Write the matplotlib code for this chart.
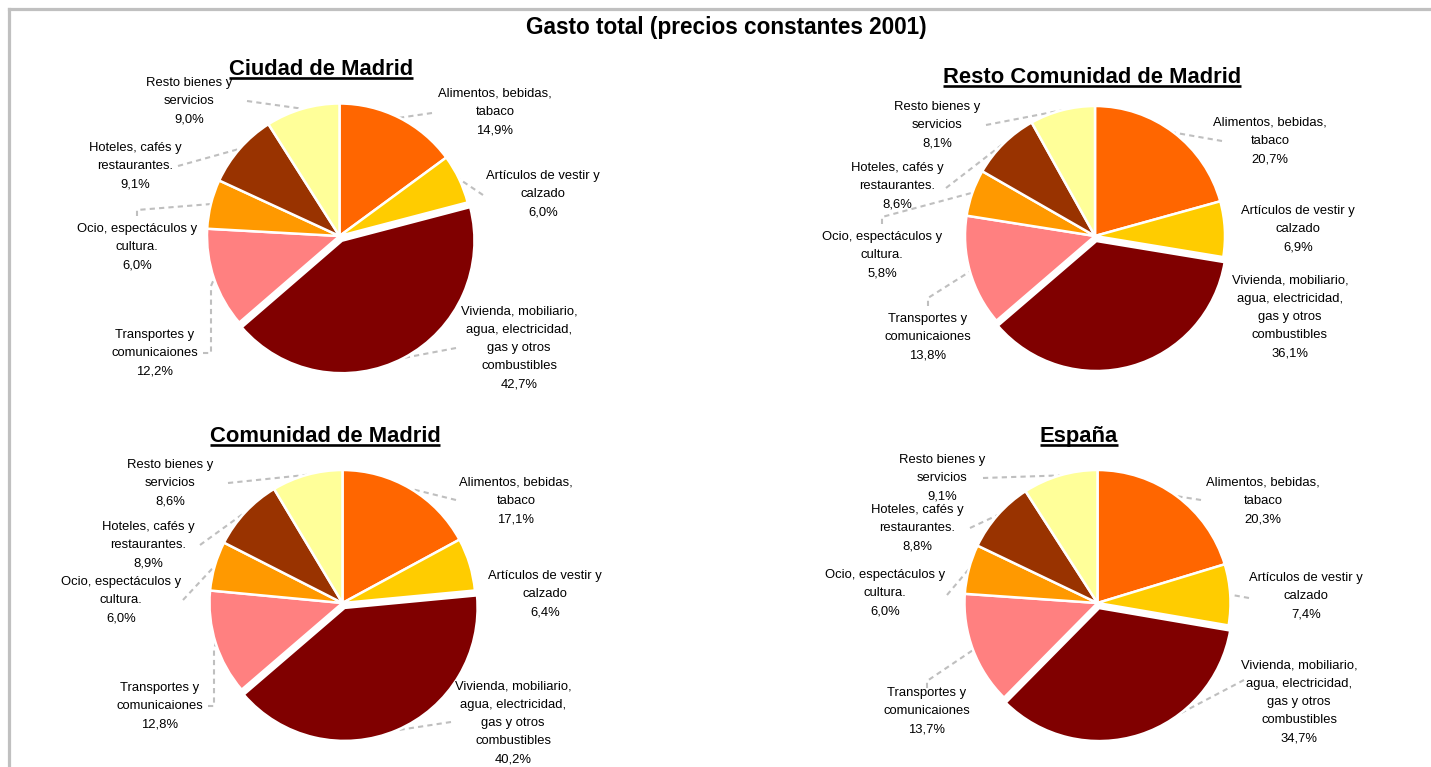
import matplotlib
matplotlib.use("Agg")
import matplotlib.pyplot as plt
import numpy as np
from matplotlib.lines import Line2D

# ---------------- data ----------------
main_title = "Gasto total (precios constantes 2001)"
categories = [
    "Alimentos, bebidas,\ntabaco",
    "Artículos de vestir y\ncalzado",
    "Vivienda, mobiliario,\nagua, electricidad,\ngas y otros\ncombustibles",
    "Transportes y\ncomunicaiones",
    "Ocio, espectáculos y\ncultura.",
    "Hoteles, cafés y\nrestaurantes.",
    "Resto bienes y\nservicios",
]
colors = ["#FF6600", "#FFCC00", "#800000", "#FF8080", "#FF9900", "#993300", "#FFFF99"]

pie_titles = ["Ciudad de Madrid", "Resto Comunidad de Madrid", "Comunidad de Madrid", "España"]
ciudad_madrid = [14.9, 6.0, 42.7, 12.2, 6.0, 9.1, 9.0]
resto_comunidad = [20.7, 6.9, 36.1, 13.8, 5.8, 8.6, 8.1]
comunidad_madrid = [17.1, 6.4, 40.2, 12.8, 6.0, 8.9, 8.6]
espana = [20.3, 7.4, 34.7, 13.7, 6.0, 8.8, 9.1]
series = [ciudad_madrid, resto_comunidad, comunidad_madrid, espana]

# ---------------- layout (pixel coordinates) ----------------
W, H = 1431, 767
layouts = [
    dict(center=(339.5, 236), r=132.5, title=(321, 75),
         labels=[(495, 112), (543, 194), (519, 348), (155, 353), (137, 247), (135, 166), (189, 101)],
         leaders=[[(432, 113)], [(483, 195)], [(456, 348)], [(203, 353), (211, 353), (211, 286)],
                  [(137, 216), (137, 210)], [(178, 166)], [(247, 101)]]),
    dict(center=(1095, 236), r=130, title=(1092, 83),
         labels=[(1270, 141), (1298, 229), (1290, 317), (928, 337), (882, 255), (897, 186), (937, 125)],
         leaders=[[(1222, 141)], None, None, [(928, 306), (928, 298)],
                  [(882, 224), (882, 217)], [(946, 188)], [(986, 125)]]),
    dict(center=(342.5, 603), r=133, title=(325, 442),
         labels=[(516, 501), (545, 594), (513, 723), (160, 706), (121, 600), (148, 545), (170, 483)],
         leaders=[[(456, 500)], None, [(451, 722)], [(208, 706), (214, 706), (214, 650)],
                  [(183, 600)], [(200, 545)], [(228, 483)]]),
    dict(center=(1097.5, 603), r=133, title=(1079, 442),
         labels=[(1263, 501), (1306, 596), (1299, 702), (927, 711), (885, 593), (917, 528), (942, 478)],
         leaders=[[(1201, 500)], [(1249, 598)], [(1244, 680)], [(927, 688), (927, 681)],
                  [(947, 595)], [(970, 528)], [(983, 478)]]),
]

FONT = "Liberation Sans"
fig = plt.figure(figsize=(W / 100, H / 100), dpi=100)
ax = fig.add_axes([0, 0, 1, 1])

explode_frac = [0, 0, 0.04, 0, 0, 0, 0]

for vals, lay, title in zip(series, layouts, pie_titles):
    cx, cy = lay["center"]
    r = lay["r"]
    wedges, _ = ax.pie(vals, colors=colors, startangle=-90, counterclock=True,
                       center=(cx, cy), radius=r,
                       explode=[e * r for e in explode_frac], normalize=True,
                       wedgeprops=dict(edgecolor="white", linewidth=1.8))
    for i, w in enumerate(wedges):
        pct = f"{vals[i]:.1f}".replace(".", ",") + "%"
        lx, ly = lay["labels"][i]
        ax.text(lx, ly, categories[i] + "\n" + pct, ha="center", va="center",
                multialignment="center", fontsize=9.4, family=FONT,
                linespacing=1.68, color="black")
        ld = lay["leaders"][i]
        if ld:
            mid = np.deg2rad((w.theta1 + w.theta2) / 2)
            ex = w.center[0] + w.r * np.cos(mid)
            ey = w.center[1] + w.r * np.sin(mid)
            pts = list(ld) + [(ex, ey)]
            xs, ys = zip(*pts)
            ax.add_line(Line2D(xs, ys, color="#BFBFBF", lw=1.5,
                               linestyle=(0, (2.5, 2)), zorder=0.5))
    tx, ty = lay["title"]
    ax.text(tx, ty, title, ha="center", va="baseline", fontsize=15.8,
            fontweight="bold", family=FONT, color="black")

ax.text(726, 34, main_title, ha="center", va="baseline", fontsize=16.3,
        fontweight="bold", family=FONT, color="black")

# border
ax.add_line(Line2D([9, W + 5], [9, 9], color="#C0C0C0", lw=2.3))
ax.add_line(Line2D([9, 9], [9, H + 5], color="#C0C0C0", lw=2.3))

ax.set_xlim(0, W)
ax.set_ylim(H, 0)
ax.set_aspect("equal")
ax.axis("off")

# underline subtitles
fig.canvas.draw()
renderer = fig.canvas.get_renderer()
inv = ax.transData.inverted()
for t in list(ax.texts):
    if t.get_text() in pie_titles:
        bb = t.get_window_extent(renderer)
        (x0, _), (x1, _) = inv.transform([(bb.x0, bb.y0), (bb.x1, bb.y0)])
        by = t.get_position()[1] + 3.2
        ax.add_line(Line2D([x0, x1], [by, by], color="black", lw=1.9,
                           solid_capstyle="butt"))

fig.savefig("out.png", dpi=100, facecolor="white")
